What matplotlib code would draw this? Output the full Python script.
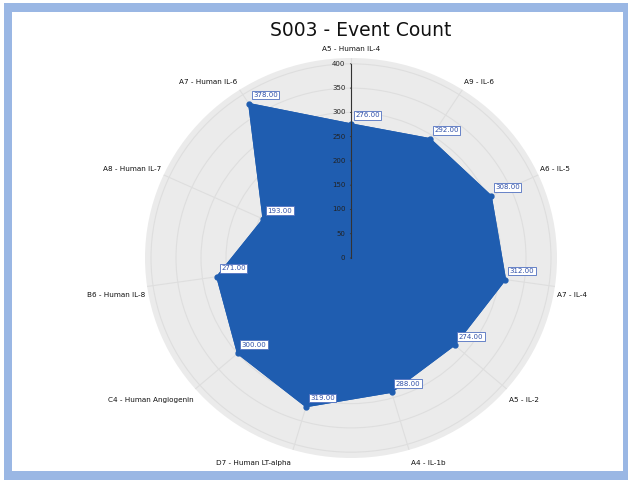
import numpy as np
import matplotlib.pyplot as plt
from matplotlib.patches import Rectangle

# chart data
categories = ["A5 - Human IL-4", "A9 - IL-6", "A6 - IL-5", "A7 - IL-4", "A5 - IL-2",
              "A4 - IL-1b", "D7 - Human LT-alpha", "C4 - Human Angiogenin",
              "B6 - Human IL-8", "A8 - Human IL-7", "A7 - Human IL-6"]
values = [276, 292, 308, 312, 274, 288, 319, 300, 271, 193, 378]
r_ticks = [0, 50, 100, 150, 200, 250, 300, 350, 400]
title = "S003 - Event Count"

blue = "#1f5db0"
W, H = 631, 483

fig = plt.figure(figsize=(W / 100, H / 100), dpi=100)
fig.patch.set_facecolor("white")
# light blue frame
fig.add_artist(Rectangle((4 / W, 3 / H), 624 / W, 477 / H, transform=fig.transFigure,
                         facecolor="#9ab7e4", edgecolor="none", zorder=0))
fig.add_artist(Rectangle((12 / W, 12 / H), 611 / W, 459 / H, transform=fig.transFigure,
                         facecolor="white", edgecolor="none", zorder=0))

ax = fig.add_axes([145 / W, 1 - 458 / H, 412 / W, 400 / H], projection="polar")
ax.set_aspect("auto")
ax.set_theta_zero_location("N")
ax.set_theta_direction(-1)
ax.set_ylim(0, 412)
ax.set_facecolor("#ebebeb")
ax.spines["polar"].set_visible(False)

n = len(categories)
theta = np.arange(n) * 2 * np.pi / n
ax.set_xticks(theta)
ax.set_xticklabels([])
ax.set_yticks([50, 100, 150, 200, 250, 300, 350, 400])
ax.set_yticklabels([])
ax.grid(True, color="#dedede", linewidth=0.8)

# filled polygon
th = np.append(theta, theta[0])
vv = np.append(values, values[0])
ax.fill(th, vv, color=blue, zorder=3)
ax.plot(th, vv, color=blue, linewidth=1, zorder=3)
ax.plot(theta, values, "o", color=blue, markersize=3.5, zorder=4)

# radial axis
ax.plot([0, 0], [0, 400], color="#333333", linewidth=0.8, zorder=5)
for r in r_ticks:
    ax.annotate(str(r), (0, r), xytext=(-4, 0), textcoords="offset points",
                ha="right", va="center", fontsize=5, color="#222222", zorder=6)
    ax.annotate("", (0, r), xytext=(-2.5, 0), textcoords="offset points",
                arrowprops=dict(arrowstyle="-", color="#333333", lw=0.6), zorder=6)

# category labels
for t, lab in zip(theta, categories):
    s = np.sin(t)
    c = np.cos(t)
    if s > 0.1:
        ha, dx = "left", 1.5
    elif s < -0.1:
        ha, dx = "right", -1.5
    else:
        ha, dx = "center", 0
    if c > 0:
        va, dy = "bottom", 1 + 3 * c
    else:
        va, dy = "top", -(3 + 4.5 * abs(c))
    ax.annotate(lab, (t, 412), xytext=(dx, dy), textcoords="offset points",
                ha=ha, va=va, fontsize=5.2, color="#111111", annotation_clip=False)

# value labels
for t, v in zip(theta, values):
    ax.annotate("%.2f" % v, (t, v), xytext=(3, 4), textcoords="offset points",
                ha="left", va="bottom", fontsize=5, color="#3050a8", zorder=7,
                bbox=dict(boxstyle="square,pad=0.2", facecolor="white",
                          edgecolor="#5070c0", linewidth=0.6))

fig.text(361 / W, 1 - 30 / H, title, ha="center", va="center", fontsize=13.5,
         color="#111111")

fig.savefig("out.png", dpi=100, facecolor=fig.get_facecolor())
